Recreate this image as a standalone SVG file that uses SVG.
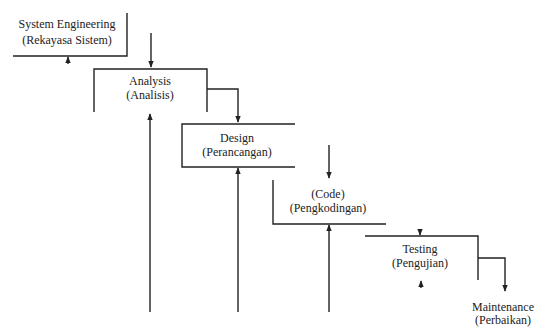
<svg xmlns="http://www.w3.org/2000/svg" width="553" height="335" viewBox="0 0 553 335">
<style>
.ln{fill:none;stroke:#222;stroke-width:1.4}
.t{font-family:'Liberation Serif','Times New Roman','DejaVu Serif',serif;font-size:12px;fill:#222;text-anchor:middle}
</style>
<defs>
<marker id="ah" viewBox="0 0 10 10" refX="9" refY="5" markerWidth="7" markerHeight="7" orient="auto" markerUnits="userSpaceOnUse">
<path d="M0,1 L10,5 L0,9 Z" fill="#222"/>
</marker>
</defs>
<rect width="553" height="335" fill="#fff"/>
<g id="system">
<path class="ln" d="M127,13 V56 H13"/>
<text class="t" x="67" y="28">System Engineering</text>
<text class="t" x="67" y="44">(Rekayasa Sistem)</text>
</g>
<g id="analysis">
<path class="ln" d="M94,112 V69 H207 V112"/>
<text class="t" x="150" y="85">Analysis</text>
<text class="t" x="150" y="99">(Analisis)</text>
</g>
<g id="design">
<path class="ln" d="M295,124 H182 V167 H295"/>
<text class="t" x="237" y="142">Design</text>
<text class="t" x="237" y="156">(Perancangan)</text>
</g>
<g id="code">
<path class="ln" d="M273,180 V224 H386"/>
<text class="t" x="328" y="198">(Code)</text>
<text class="t" x="328" y="212">(Pengkodingan)</text>
</g>
<g id="testing">
<path class="ln" d="M365,236 H478 V280"/>
<text class="t" x="420" y="253">Testing</text>
<text class="t" x="420" y="267">(Pengujian)</text>
</g>
<g id="maintenance">
<text class="t" x="503" y="311">Maintenance</text>
<text class="t" x="503" y="324">(Perbaikan)</text>
</g>
<g id="connectors">
<path class="ln" d="M151,33 V67" marker-end="url(#ah)"/>
<path class="ln" d="M207,89 H238 V122" marker-end="url(#ah)"/>
<path class="ln" d="M329,145 V178" marker-end="url(#ah)"/>
<path class="ln" d="M420,229 V235" marker-end="url(#ah)"/>
<path class="ln" d="M478,258 H505 V291" marker-end="url(#ah)"/>
<path class="ln" d="M150,312 V114" marker-end="url(#ah)"/>
<path class="ln" d="M238,312 V168" marker-end="url(#ah)"/>
<path class="ln" d="M329,312 V225" marker-end="url(#ah)"/>
<path class="ln" d="M68,64 V57" marker-end="url(#ah)"/>
<path class="ln" d="M421,288 V281" marker-end="url(#ah)"/>
</g>
</svg>
